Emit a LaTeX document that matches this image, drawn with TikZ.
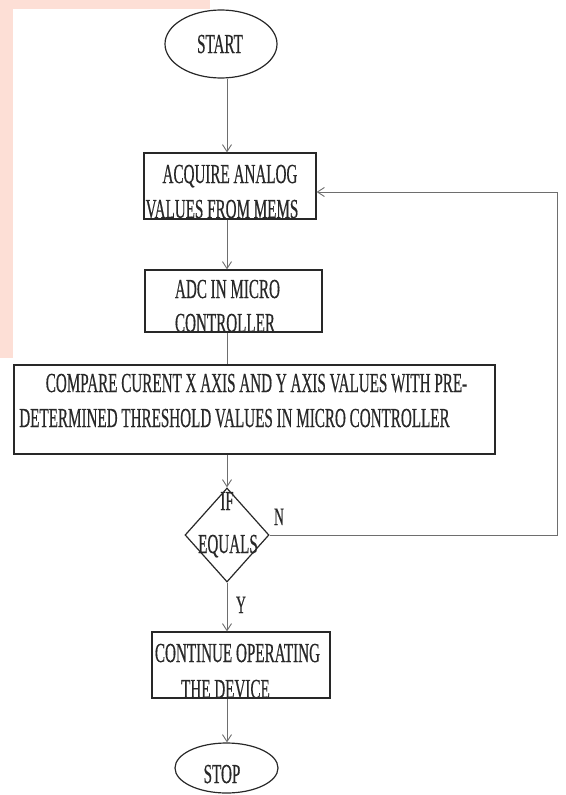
\documentclass[tikz,border=0pt]{standalone}
\usepackage{fontspec}
\setmainfont{Liberation Serif}[FakeStretch=0.55,FakeBold=0.4]
\usetikzlibrary{shapes.geometric,arrows.meta,calc}
\definecolor{wm}{RGB}{253,223,214}
\definecolor{ink}{RGB}{40,40,40}
\definecolor{wire}{RGB}{110,110,110}
\begin{document}
\begin{tikzpicture}[x=1pt,y=-1pt,
  outl/.style={draw=ink, line width=1.2pt, inner sep=0pt},
  box/.style={outl, rectangle},
  oval/.style={outl, ellipse},
  txt/.style={font=\fontsize{27.5}{32}\selectfont, text=ink, anchor=base, inner sep=0pt},
  lbl/.style={font=\fontsize{25}{30}\selectfont, text=ink, anchor=base, inner sep=0pt},
  conn/.style={draw=wire, line width=0.9pt},
  arr/.style={conn, -{Straight Barb[length=7pt,width=9pt]}}]
\useasboundingbox (0,0) rectangle (565,795);
\fill[white] (0,0) rectangle (565,795);
% faint watermark band
\fill[wm] (0,0) rectangle (13,358);
\fill[wm] (0,0) rectangle (210,9);
% shapes
\node[oval, minimum width=112pt, minimum height=68pt] (start) at (221,44) {};
\node[box, minimum width=172pt, minimum height=66pt] (acq) at (230,186) {};
\node[box, minimum width=177pt, minimum height=62pt] (adc) at (233.5,301) {};
\node[box, minimum width=481pt, minimum height=89pt] (cmp) at (254.5,409.5) {};
\node[outl, diamond, minimum width=84pt, minimum height=94pt, aspect=0.894] (dec) at (227,535) {};
\node[box, minimum width=178pt, minimum height=66pt] (cont) at (241,665) {};
\node[oval, minimum width=103pt, minimum height=50pt] (stop) at (226.5,768) {};
% texts
\node[txt] (tstart) at (220,53) {START};
\node[txt] (tacq1) at (230,183) {ACQUIRE ANALOG};
\node[txt] (tacq2) at (222,218) {VALUES FROM MEMS};
\node[txt] (tadc1) at (227.5,298) {ADC IN MICRO};
\node[txt] (tadc2) at (225,332) {CONTROLLER};
\node[txt] (tcmp1) at (256.5,392) {COMPARE CURENT X AXIS AND Y AXIS VALUES WITH PRE-};
\node[txt] (tcmp2) at (234.5,427) {DETERMINED THRESHOLD VALUES IN MICRO CONTROLLER};
\node[txt] (tif) at (227,510) {IF};
\node[txt] (teq) at (228,553) {EQUALS};
\node[txt] (tcont1) at (237.5,662) {CONTINUE OPERATING};
\node[txt] (tcont2) at (225.5,698) {THE DEVICE};
\node[txt] (tstop) at (222,783) {STOP};
\node[lbl] (lN) at (279,525) {N};
\node[lbl] (lY) at (241,613) {Y};
% connectors
\coordinate (ax) at (227,0);
\coordinate (rt) at (557,0);
\draw[arr] (ax |- start.south) -- (ax |- acq.north);
\draw[arr] (ax |- acq.south) -- (ax |- adc.north);
\draw[conn] (ax |- adc.south) -- (ax |- cmp.north);
\draw[arr] (ax |- cmp.south) -- (dec.north);
\draw[arr] (dec.south) -- (ax |- cont.north);
\draw[arr] (ax |- cont.south) -- (ax |- stop.north);
\draw[arr] (dec.east) -- (rt |- dec.east) -- (rt |- {$(acq.east)+(0,6)$}) -- ($(acq.east)+(0,6)$);
\end{tikzpicture}
\end{document}
